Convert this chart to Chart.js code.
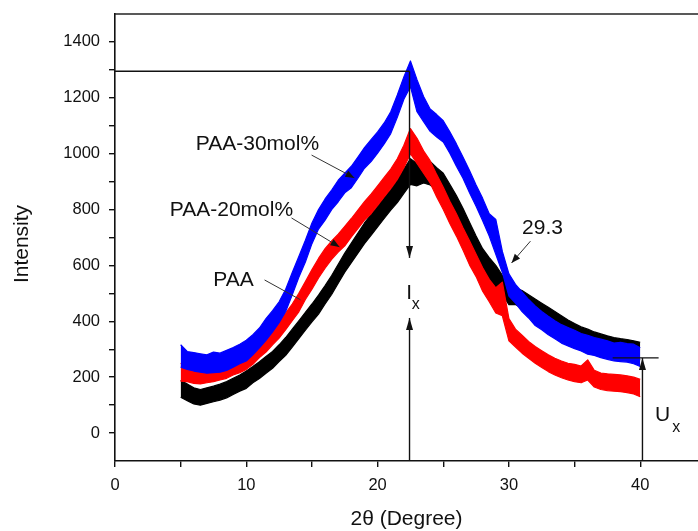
<!DOCTYPE html>
<html>
<head>
    <title>XRD Intensity</title>
    <script src="https://cdn.jsdelivr.net/npm/chart.js"></script>
    <style>
        body { margin: 0; background: #fff; }
    </style>
</head>
<body>
    <canvas id="xrd" width="698" height="531"></canvas>
    <script>
        // 2theta grid, 5 to 40 deg in 0.5 deg steps
        const step = 0.5;
        const twoTheta = [];
        for (let x = 5; x <= 40; x += step) twoTheta.push(x);

        // upper and lower edge of each noisy trace
        const paa30Hi = [316, 292, 288, 284, 280, 290, 286, 296, 306, 318,
            332, 352, 376, 410, 438, 470, 515, 575, 632, 690,
            752, 800, 838, 870, 905, 930, 955, 988, 1022, 1050,
            1078, 1110, 1150, 1210, 1275, 1332, 1265, 1205, 1160, 1140,
            1118, 1078, 1035, 988, 940, 888, 840, 785, 765, 650,
            570, 532, 505, 478, 455, 435, 418, 402, 388, 378,
            368, 356, 350, 342, 336, 330, 322, 325, 320, 318,
            305];
        const paa30Lo = [236, 228, 222, 218, 214, 216, 218, 224, 236, 248,
            258, 280, 305, 332, 362, 395, 435, 495, 558, 612,
            678, 730, 762, 800, 828, 860, 878, 912, 948, 972,
            1002, 1035, 1072, 1130, 1195, 1240, 1150, 1115, 1080, 1060,
            1042, 1002, 955, 912, 860, 812, 760, 705, 640, 575,
            490, 465, 435, 412, 385, 370, 352, 338, 322, 312,
            302, 294, 282, 278, 270, 264, 258, 256, 254, 248,
            238];
        const paa20Hi = [250, 238, 232, 228, 232, 238, 244, 250, 262, 272,
            284, 302, 326, 350, 374, 400, 430, 462, 500, 542,
            585, 625, 660, 688, 712, 740, 768, 798, 828, 855,
            885, 915, 945, 982, 1030, 1090, 1055, 1010, 975, 925,
            880, 830, 785, 735, 688, 640, 592, 550, 520, 540,
            410, 372, 350, 328, 310, 295, 280, 268, 258, 250,
            246, 240, 262, 225, 215, 212, 210, 208, 205, 200,
            192];
        const paa20Lo = [186, 184, 178, 176, 180, 184, 190, 196, 208, 216,
            228, 246, 270, 290, 316, 340, 370, 402, 434, 478,
            515, 555, 590, 622, 648, 670, 702, 732, 762, 785,
            815, 845, 875, 908, 950, 1000, 965, 930, 895, 845,
            800, 750, 705, 655, 602, 560, 508, 470, 430, 420,
            330, 308, 286, 268, 250, 235, 220, 208, 198, 190,
            184, 180, 190, 165, 156, 152, 150, 148, 145, 140,
            130];
        const paaHi = [188, 176, 162, 156, 162, 168, 175, 184, 196, 208,
            222, 238, 255, 274, 292, 316, 342, 372, 402, 432,
            462, 494, 528, 564, 604, 644, 680, 716, 752, 782,
            812, 842, 872, 905, 945, 982, 965, 975, 972, 950,
            930, 890, 850, 805, 755, 705, 660, 628, 600, 565,
            530, 520, 510, 495, 480, 465, 450, 435, 420, 405,
            392, 380, 372, 362, 355, 348, 342, 338, 335, 330,
            325];
        const paaLo = [128, 116, 104, 100, 106, 112, 118, 126, 138, 150,
            160, 180, 195, 214, 232, 256, 278, 308, 338, 368,
            398, 426, 462, 496, 536, 576, 610, 644, 678, 708,
            738, 768, 798, 825, 858, 890, 885, 895, 888, 870,
            850, 810, 770, 725, 675, 625, 580, 552, 520, 495,
            460, 460, 446, 430, 416, 400, 386, 370, 356, 344,
            332, 320, 312, 304, 296, 290, 284, 280, 274, 270,
            262];

        const xTicks = [0, 5, 10, 15, 20, 25, 30, 35, 40];
        const yTicks = [-100, 0, 100, 200, 300, 400, 500, 600, 700, 800, 900, 1000, 1100, 1200, 1300, 1400, 1500];

        // annotation marks, in data units
        const peakLevel = 1295, peakAngle = 22.43;
        const ixArrowTop = 627, ixArrowBottom = 412;
        const uxAngle = 40.17, uxLevel = 269;
        const labels = [
            { text: 'PAA-30mol%', x: 10.85, y: 1034, from: [14.97, 995], to: [18.24, 913], head: true },
            { text: 'PAA-20mol%', x: 8.87, y: 798, from: [13.44, 770], to: [17.1, 666], head: true },
            { text: 'PAA', x: 9.02, y: 547, from: [11.39, 548], to: [14.13, 477], head: false },
            { text: '29.3', x: 32.56, y: 733, from: [31.64, 687], to: [30.2, 609], head: true }
        ];

        const FONT = '"Liberation Sans", Arial, sans-serif';

        function edge(vals) {
            return twoTheta.map((x, i) => ({ x: x, y: vals[i] }));
        }

        // each trace is a filled band between its upper and lower edge
        function traceBand(name, hi, lo, colour, order) {
            return [
                { label: name, data: edge(hi), borderColor: colour, order: order, fill: false },
                { label: name + ' low', data: edge(lo), borderColor: colour, backgroundColor: colour, order: order, fill: '-1' }
            ];
        }

        function arrow(ctx, x1, y1, x2, y2, len, half) {
            ctx.beginPath();
            ctx.moveTo(x1, y1);
            ctx.lineTo(x2, y2);
            ctx.stroke();
            if (!len) return;
            const a = Math.atan2(y2 - y1, x2 - x1);
            ctx.beginPath();
            ctx.moveTo(x2, y2);
            ctx.lineTo(x2 - len * Math.cos(a) + half * Math.sin(a), y2 - len * Math.sin(a) - half * Math.cos(a));
            ctx.lineTo(x2 - len * Math.cos(a) - half * Math.sin(a), y2 - len * Math.sin(a) + half * Math.cos(a));
            ctx.closePath();
            ctx.fill();
        }

        const annotate = {
            id: 'annotate',
            afterDraw(chart) {
                const ctx = chart.ctx;
                const xs = chart.scales.x, ys = chart.scales.y;
                const area = chart.chartArea;
                const px = v => xs.getPixelForValue(v);
                const py = v => ys.getPixelForValue(v);
                ctx.save();

                // top frame line
                ctx.strokeStyle = '#222';
                ctx.lineWidth = 1.6;
                ctx.beginPath();
                ctx.moveTo(area.left, area.top);
                ctx.lineTo(area.right, area.top);
                ctx.stroke();

                // Ix construction
                ctx.strokeStyle = '#111';
                ctx.fillStyle = '#111';
                ctx.lineWidth = 1.4;
                ctx.beginPath();
                ctx.moveTo(area.left, py(peakLevel));
                ctx.lineTo(px(peakAngle), py(peakLevel));
                ctx.stroke();
                arrow(ctx, px(peakAngle), py(peakLevel), px(peakAngle), py(ixArrowTop), 12, 3.5);
                arrow(ctx, px(peakAngle), area.bottom, px(peakAngle), py(ixArrowBottom), 12, 3.5);

                // Ux construction
                arrow(ctx, px(uxAngle), area.bottom, px(uxAngle), py(uxLevel), 12, 3.5);
                ctx.beginPath();
                ctx.moveTo(px(37.9), py(uxLevel));
                ctx.lineTo(px(41.4), py(uxLevel));
                ctx.stroke();

                ctx.textAlign = 'center';
                ctx.textBaseline = 'middle';
                ctx.font = '21px ' + FONT;
                ctx.fillText('I', px(22.4), py(502));
                ctx.fillText('U', px(41.7), py(65));
                ctx.font = '16px ' + FONT;
                ctx.fillText('x', px(22.9), py(459));
                ctx.fillText('x', px(42.75), py(19));

                // series labels with leader lines
                ctx.lineWidth = 1;
                ctx.strokeStyle = '#333';
                ctx.fillStyle = '#111';
                labels.forEach(l => {
                    arrow(ctx, px(l.from[0]), py(l.from[1]), px(l.to[0]), py(l.to[1]), l.head ? 9 : 0, 3.5);
                });
                ctx.font = '21px ' + FONT;
                labels.forEach(l => {
                    ctx.fillText(l.text, px(l.x), py(l.y));
                });

                // axis titles
                ctx.fillStyle = '#111';
                ctx.fillText('2\u03B8 (Degree)', (area.left + area.right) / 2, 519);
                ctx.translate(22, 244);
                ctx.rotate(-Math.PI / 2);
                ctx.fillText('Intensity', 0, 0);
                ctx.restore();
            }
        };

        new Chart(document.getElementById('xrd'), {
            type: 'line',
            data: {
                datasets: [
                    ...traceBand('PAA-30mol%', paa30Hi, paa30Lo, '#0000ff', 0),
                    ...traceBand('PAA-20mol%', paa20Hi, paa20Lo, '#ff0000', 1),
                    ...traceBand('PAA', paaHi, paaLo, '#000000', 2)
                ]
            },
            options: {
                responsive: false,
                animation: false,
                layout: { padding: { top: 14, right: 0, left: 0, bottom: 0 } },
                elements: {
                    point: { radius: 0 },
                    line: { borderWidth: 1.2, tension: 0, borderJoinStyle: 'round' }
                },
                plugins: {
                    legend: { display: false },
                    tooltip: { enabled: false },
                    filler: { propagate: false }
                },
                scales: {
                    x: {
                        type: 'linear',
                        min: 0,
                        max: 44.4,
                        afterBuildTicks: s => { s.ticks = xTicks.map(v => ({ value: v })); },
                        afterFit: s => { s.height = 70; s.paddingRight = 0; },
                        ticks: {
                            autoSkip: false,
                            maxRotation: 0,
                            padding: 9,
                            color: '#111',
                            font: { family: FONT, size: 16.5 },
                            callback: v => (v % 10 === 0 ? String(v) : '')
                        },
                        grid: { drawOnChartArea: false, tickLength: 6, color: '#111', lineWidth: 1.4 },
                        border: { color: '#111', width: 1.6 }
                    },
                    y: {
                        min: -100,
                        max: 1500,
                        afterBuildTicks: s => { s.ticks = yTicks.map(v => ({ value: v })); },
                        afterFit: s => { s.width = 115; s.paddingTop = 0; s.paddingBottom = 0; },
                        ticks: {
                            autoSkip: false,
                            padding: 9,
                            color: '#111',
                            font: { family: FONT, size: 16.5 },
                            callback: v => (v % 200 === 0 && v >= 0 && v <= 1400 ? String(v) : '')
                        },
                        grid: {
                            drawOnChartArea: false,
                            tickLength: 6,
                            lineWidth: 1.4,
                            color: c => (c.tick && (c.tick.value === -100 || c.tick.value === 1500) ? 'rgba(0,0,0,0)' : '#111')
                        },
                        border: { color: '#111', width: 1.6 }
                    }
                }
            },
            plugins: [annotate]
        });
    </script>
</body>
</html>
